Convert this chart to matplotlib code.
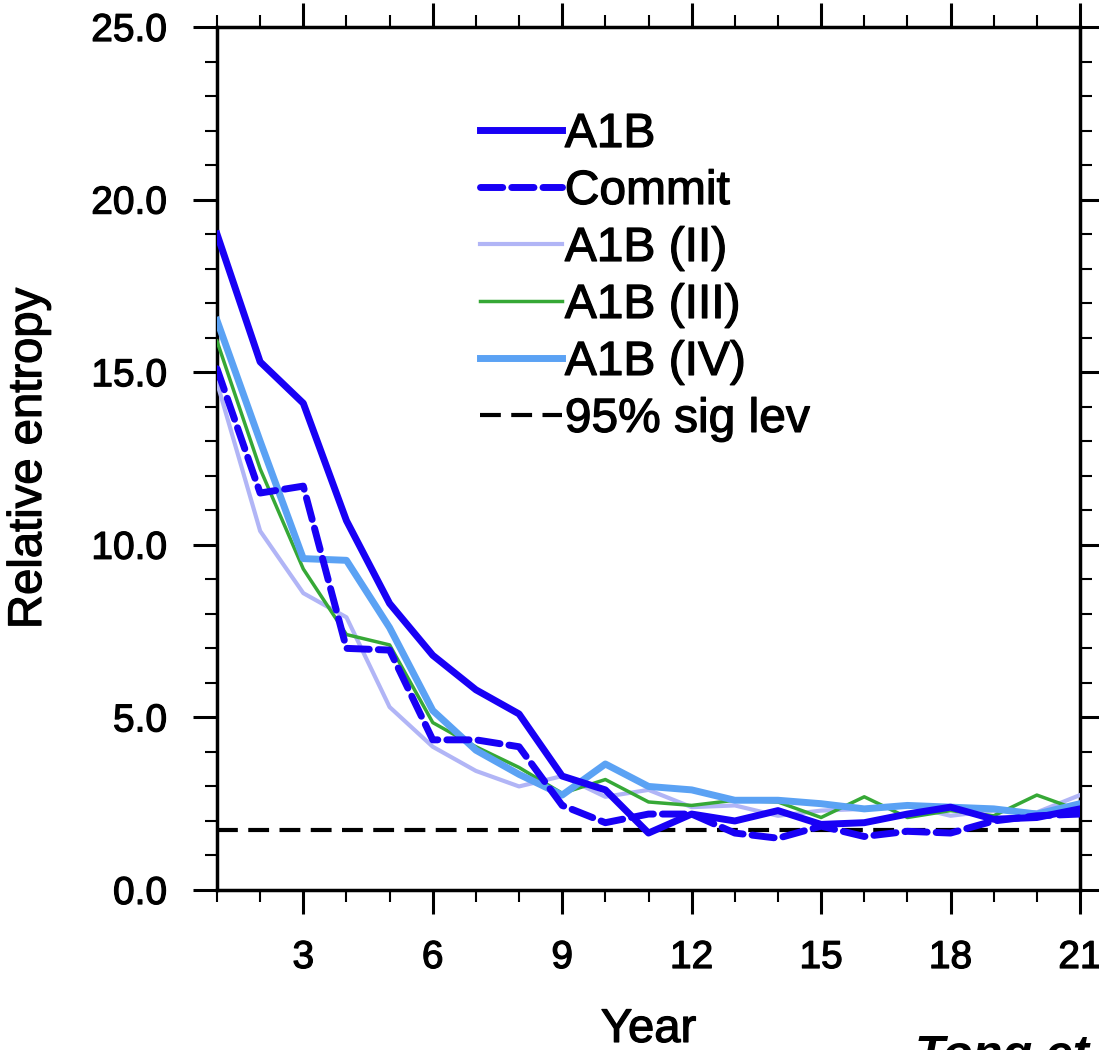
import numpy as np
import matplotlib
matplotlib.use("Agg")
import matplotlib.pyplot as plt
import matplotlib.patheffects as pe
from matplotlib.ticker import MultipleLocator, FixedLocator, FormatStrFormatter

plt.rcParams['font.family'] = ['Liberation Sans', 'DejaVu Sans']

# Data
years = np.arange(1, 22)
a1b = [19.0, 15.3, 14.1, 10.7, 8.3, 6.8, 5.8, 5.1, 3.3, 2.9, 1.65,
       2.2, 2.0, 2.3, 1.9, 1.95, 2.2, 2.4, 2.05, 2.1, 2.35]
commit = [15.1, 11.5, 11.7, 7.0, 6.95, 4.35, 4.35, 4.15, 2.45, 1.95, 2.2,
          2.2, 1.65, 1.5, 1.85, 1.55, 1.7, 1.65, 2.0, 2.15, 2.2]
a1b_ii = [14.7, 10.4, 8.6, 7.9, 5.3, 4.15, 3.45, 3.0, 3.3, 2.7, 2.9,
          2.4, 2.45, 2.15, 2.3, 2.35, 2.45, 2.15, 2.3, 2.25, 2.75]
a1b_iii = [15.9, 12.2, 9.3, 7.4, 7.1, 4.85, 4.15, 3.55, 2.8, 3.2, 2.55,
           2.45, 2.6, 2.55, 2.1, 2.7, 2.1, 2.3, 2.15, 2.75, 2.3]
a1b_iv = [16.5, 13.0, 9.6, 9.55, 7.6, 5.2, 4.05, 3.35, 2.75, 3.65, 3.0,
          2.9, 2.6, 2.6, 2.5, 2.35, 2.45, 2.4, 2.35, 2.2, 2.5]
sig_level = 1.74

x_ticks = [3, 6, 9, 12, 15, 18, 21]
y_ticks = [0, 5, 10, 15, 20, 25]

# slightly heavier text, closer to the NCL Helvetica look
thick = [pe.withStroke(linewidth=0.9, foreground='black')]

W, H = 1099, 1050
fig = plt.figure(figsize=(W / 100, H / 100), dpi=100)
ax = fig.add_axes([217 / W, 1 - 890 / H, (1080 - 217) / W, (890 - 27) / H])

sig_line, = ax.plot([1, 21], [sig_level, sig_level], color='black', lw=3,
                    dashes=(5, 2.5), label='95% sig lev', zorder=2)
l_ii, = ax.plot(years, a1b_ii, color='#B1B5F6', lw=3, label='A1B (II)', zorder=3)
l_iii, = ax.plot(years, a1b_iii, color='#36A836', lw=2.5, label='A1B (III)', zorder=4)
l_iv, = ax.plot(years, a1b_iv, color='#5BA2F4', lw=5, label='A1B (IV)', zorder=5)
l_com, = ax.plot(years, commit, color='#1800F5', lw=5, dashes=(3.2, 1.3),
                 dash_capstyle='round', label='Commit', zorder=6)
l_a1b, = ax.plot(years, a1b, color='#1800F5', lw=5, label='A1B', zorder=7)

ax.set_xlim(1, 21)
ax.set_ylim(0, 25)

ax.xaxis.set_major_locator(FixedLocator(x_ticks))
ax.xaxis.set_minor_locator(MultipleLocator(1))
ax.yaxis.set_major_locator(FixedLocator(y_ticks))
ax.yaxis.set_minor_locator(MultipleLocator(1))
ax.yaxis.set_major_formatter(FormatStrFormatter('%.1f'))

for s in ax.spines.values():
    s.set_linewidth(2.5)

ax.tick_params(which='both', direction='out', top=True, right=True,
               labeltop=False, labelright=False)
ax.tick_params(which='major', length=17, width=2.2, labelsize=28, pad=19)
ax.tick_params(which='minor', length=8.5, width=1.5)
for lab in ax.get_xticklabels() + ax.get_yticklabels():
    lab.set_path_effects(thick)

ax.set_xlabel('Year', fontsize=34, labelpad=23, path_effects=thick)
ax.set_ylabel('Relative entropy', fontsize=34, labelpad=29, path_effects=thick)

handles = [l_a1b, l_com, l_ii, l_iii, l_iv, sig_line]
leg = ax.legend(handles=handles, labels=[h.get_label() for h in handles],
                loc='upper left', bbox_to_anchor=(480 / W, 1 - 112 / H),
                bbox_transform=fig.transFigure, frameon=False, fontsize=34.5,
                handlelength=1.72, handletextpad=0.05, labelspacing=0.25,
                borderpad=0, borderaxespad=0)
for t in leg.get_texts():
    t.set_path_effects(thick)

fig.text(915 / W, 1 - 1034 / H, 'Tong et al.', fontsize=35,
         fontweight='bold', fontstyle='italic', va='top', ha='left')

fig.savefig('out.png', dpi=100)
